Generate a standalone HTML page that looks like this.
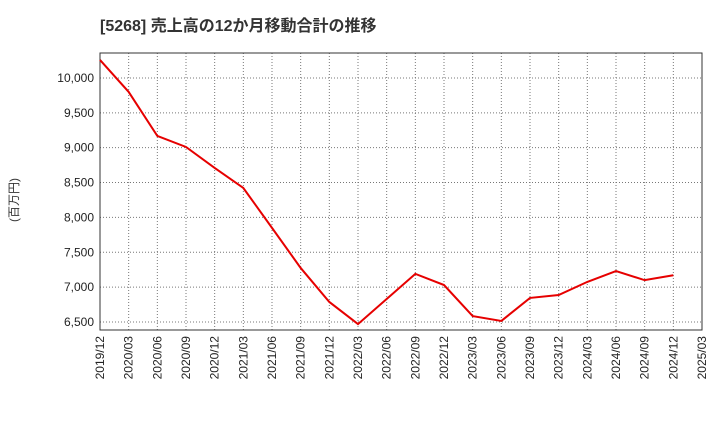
<!DOCTYPE html>
<html><head><meta charset="utf-8"><style>
body{margin:0;background:#fff;font-family:"Liberation Sans","Noto Sans CJK JP",sans-serif}
</style></head><body>
<svg width="720" height="440" xmlns="http://www.w3.org/2000/svg">
<text x="100" y="31" font-size="16" font-weight="bold" fill="#333" font-family="Liberation Sans, Noto Sans CJK JP, sans-serif">[5268]  売上高の12か月移動合計の推移</text>
<text transform="translate(18,200) rotate(-90)" font-size="12" fill="#333" text-anchor="middle" font-family="Liberation Sans, Noto Sans CJK JP, sans-serif">(百万円)</text>
<g id="grid"></g><g id="axes"></g><g id="series"></g>
</svg>
<script>
const xLabels=["2019/12","2020/03","2020/06","2020/09","2020/12","2021/03","2021/06","2021/09","2021/12","2022/03","2022/06","2022/09","2022/12","2023/03","2023/06","2023/09","2023/12","2024/03","2024/06","2024/09","2024/12","2025/03"];
const values=[10258,9800,9168,9010,8710,8422,7850,7275,6787,6470,6830,7190,7030,6585,6515,6845,6887,7075,7230,7100,7170];
const yTicks=[6500,7000,7500,8000,8500,9000,9500,10000];
const L=100,R=702,T=53,B=330,yMin=6385,yMax=10358;
const NS="http://www.w3.org/2000/svg";
const xs=i=>L+i*(R-L)/(xLabels.length-1);
const ys=v=>B-(v-yMin)/(yMax-yMin)*(B-T);
const g=document.getElementById('grid'),a=document.getElementById('axes'),s=document.getElementById('series');
function mk(t,at,p){const e=document.createElementNS(NS,t);for(const k in at)e.setAttribute(k,at[k]);p.appendChild(e);return e;}
xLabels.forEach((lb,i)=>{
 const x=xs(i);
 if(i>0&&i<xLabels.length-1){const l=mk('line',{x1:x,x2:x,y1:T,y2:B,stroke:'#777','stroke-dasharray':'1,2','stroke-width':1},g);
 
 }
 const t=mk('text',{transform:`translate(${x+4},${B+6}) rotate(-90)`,'font-size':12,fill:'#222','text-anchor':'end'},a);
 t.textContent=lb;
 
 
});
yTicks.forEach(v=>{
 const y=ys(v);
 const l=mk('line',{x1:L,x2:R,y1:y,y2:y,stroke:'#777','stroke-dasharray':'1,2','stroke-width':1},g);
 
 
 const t=mk('text',{x:L-6,y:y+4,'font-size':12,fill:'#222','text-anchor':'end'},a);
 t.textContent=v.toLocaleString('en-US');
 
 
});
const fr=mk('rect',{x:L,y:T,width:R-L,height:B-T,fill:'none',stroke:'#333','stroke-width':1},a);


const p=mk('polyline',{points:values.map((v,i)=>xs(i)+','+ys(v)).join(' '),fill:'none',stroke:'#e60000','stroke-width':2},s);


</script>
</body></html>
